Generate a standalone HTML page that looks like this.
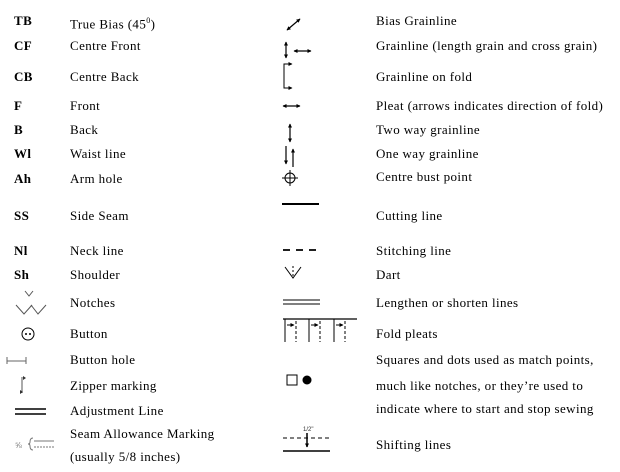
<!DOCTYPE html>
<html><head><meta charset="utf-8"><style>
body{margin:0;background:#fff;width:620px;height:472px;position:relative;overflow:hidden;font-family:"Liberation Serif",serif;font-size:13px;color:#000}
.t{position:absolute;white-space:nowrap;line-height:16px;letter-spacing:0.4px}
.b{font-weight:bold}
svg{position:absolute;left:0;top:0}
</style></head><body>
<div class="t b" style="left:14px;top:13px">TB</div><div class="t" style="left:70px;top:13px">True Bias (45<sup style="font-size:8px">0</sup>)</div>
<div class="t b" style="left:14px;top:38px">CF</div><div class="t" style="left:70px;top:38px">Centre Front</div>
<div class="t b" style="left:14px;top:69px">CB</div><div class="t" style="left:70px;top:69px">Centre Back</div>
<div class="t b" style="left:14px;top:98px">F</div><div class="t" style="left:70px;top:98px">Front</div>
<div class="t b" style="left:14px;top:122px">B</div><div class="t" style="left:70px;top:122px">Back</div>
<div class="t b" style="left:14px;top:146px">Wl</div><div class="t" style="left:70px;top:146px">Waist line</div>
<div class="t b" style="left:14px;top:171px">Ah</div><div class="t" style="left:70px;top:171px">Arm hole</div>
<div class="t b" style="left:14px;top:208px">SS</div><div class="t" style="left:70px;top:208px">Side Seam</div>
<div class="t b" style="left:14px;top:243px">Nl</div><div class="t" style="left:70px;top:243px">Neck line</div>
<div class="t b" style="left:14px;top:267px">Sh</div><div class="t" style="left:70px;top:267px">Shoulder</div>
<div class="t" style="left:70px;top:295px">Notches</div>
<div class="t" style="left:70px;top:326px">Button</div>
<div class="t" style="left:70px;top:352px">Button hole</div>
<div class="t" style="left:70px;top:378px">Zipper marking</div>
<div class="t" style="left:70px;top:403px">Adjustment Line</div>
<div class="t" style="left:70px;top:426px">Seam Allowance Marking</div>
<div class="t" style="left:70px;top:449px">(usually 5/8 inches)</div>

<div class="t" style="left:376px;top:13px">Bias Grainline</div>
<div class="t" style="left:376px;top:38px">Grainline (length grain and cross grain)</div>
<div class="t" style="left:376px;top:69px">Grainline on fold</div>
<div class="t" style="left:376px;top:98px">Pleat (arrows indicates direction of fold)</div>
<div class="t" style="left:376px;top:122px">Two way grainline</div>
<div class="t" style="left:376px;top:146px">One way grainline</div>
<div class="t" style="left:376px;top:169px">Centre bust point</div>
<div class="t" style="left:376px;top:208px">Cutting line</div>
<div class="t" style="left:376px;top:243px">Stitching line</div>
<div class="t" style="left:376px;top:267px">Dart</div>
<div class="t" style="left:376px;top:295px">Lengthen or shorten lines</div>
<div class="t" style="left:376px;top:326px">Fold pleats</div>
<div class="t" style="left:376px;top:352px">Squares and dots used as match points,</div>
<div class="t" style="left:376px;top:378px">much like notches, or they’re used to</div>
<div class="t" style="left:376px;top:401px">indicate where to start and stop sewing</div>
<div class="t" style="left:376px;top:437px">Shifting lines</div>

<svg width="620" height="472" viewBox="0 0 620 472">
<defs><marker id="a" markerUnits="userSpaceOnUse" markerWidth="4" markerHeight="4" refX="3.5" refY="2" orient="auto-start-reverse"><path d="M0,0L4,2L0,4z" fill="#000"/></marker></defs>
<g stroke="#000" stroke-width="1.2" fill="none">
<line x1="287" y1="30" x2="300" y2="19" marker-start="url(#a)" marker-end="url(#a)"/>
<line x1="286" y1="42" x2="286" y2="58" marker-start="url(#a)" marker-end="url(#a)"/>
<line x1="294" y1="51" x2="311" y2="51" marker-start="url(#a)" marker-end="url(#a)"/>
<path d="M292,64H284V88H292" stroke-width="1" marker-end="url(#a)"/>
<line x1="284" y1="64" x2="292" y2="64" marker-end="url(#a)" stroke-width="1"/>
<line x1="283" y1="106" x2="300" y2="106" marker-start="url(#a)" marker-end="url(#a)"/>
<line x1="290" y1="124" x2="290" y2="142" marker-start="url(#a)" marker-end="url(#a)"/>
<line x1="286" y1="146" x2="286" y2="164" marker-end="url(#a)"/>
<line x1="293" y1="167" x2="293" y2="149" marker-end="url(#a)"/>
<circle cx="290" cy="178" r="5" stroke-width="1"/>
<line x1="282" y1="178" x2="298" y2="178" stroke-width="1"/><line x1="290" y1="170" x2="290" y2="186" stroke-width="1"/>
<line x1="282" y1="204" x2="319" y2="204" stroke-width="2"/>
<line x1="283" y1="250" x2="320" y2="250" stroke-width="1.8" stroke-dasharray="7,6"/>
<path d="M285,267L293,278L301,267" stroke-width="1"/>
<line x1="293" y1="266" x2="293" y2="276" stroke-width="1" stroke-dasharray="2,2"/>
<line x1="283" y1="300" x2="320" y2="300" stroke-width="1"/><line x1="283" y1="304" x2="320" y2="304" stroke-width="1"/>
<line x1="283" y1="319" x2="357" y2="319" stroke-width="1.2"/>
<g stroke-width="1">
<line x1="285" y1="319" x2="285" y2="342"/><line x1="296" y1="321" x2="296" y2="342" stroke-dasharray="3,2"/>
<line x1="309" y1="319" x2="309" y2="342"/><line x1="320" y1="321" x2="320" y2="342" stroke-dasharray="3,2"/>
<line x1="334" y1="319" x2="334" y2="342"/><line x1="345" y1="321" x2="345" y2="342" stroke-dasharray="3,2"/>
<line x1="287" y1="325" x2="294" y2="325" marker-end="url(#a)"/>
<line x1="311" y1="325" x2="318" y2="325" marker-end="url(#a)"/>
<line x1="336" y1="325" x2="343" y2="325" marker-end="url(#a)"/>
</g>
<rect x="287" y="375" width="10" height="10" stroke-width="1"/>
<line x1="283" y1="438" x2="330" y2="438" stroke-width="1" stroke-dasharray="4,3"/>
<line x1="307" y1="433" x2="307" y2="447" stroke-width="1.5" marker-end="url(#a)"/>
<line x1="283" y1="451" x2="330" y2="451" stroke-width="1.5"/>
<path d="M25,291L29,296L33,291M16,305L24,314L32,305M31,305L38,314L46,305" stroke="#555" stroke-width="1"/>
<circle cx="28" cy="334" r="6" stroke-width="1"/>
<line x1="7" y1="361" x2="26" y2="361" stroke="#666" stroke-width="1"/>
<line x1="7" y1="357" x2="7" y2="364" stroke="#666" stroke-width="1"/><line x1="26" y1="357" x2="26" y2="364" stroke="#666" stroke-width="1"/>
<line x1="22" y1="377" x2="22" y2="393" stroke="#555" stroke-width="1"/>
<line x1="15" y1="409" x2="46" y2="409" stroke-width="1.6"/><line x1="15" y1="414" x2="46" y2="414" stroke-width="1.6"/>
<line x1="34" y1="441" x2="54" y2="441" stroke="#777" stroke-width="1"/>
<line x1="34" y1="447" x2="54" y2="447" stroke="#777" stroke-width="1" stroke-dasharray="2,1"/>
<path d="M33,438Q30,438 30,442Q30,444 28,444Q30,444 30,446Q30,450 33,450" stroke="#777" stroke-width="1"/>
</g>
<circle cx="307" cy="380" r="4.5" fill="#000"/>
<circle cx="26" cy="334" r="1" fill="#000"/><circle cx="30" cy="334" r="1" fill="#000"/>
<path d="M23,376l3,2l-3,2z M20,390l3,2l-3,2z" fill="#333"/>
<text x="303" y="431" font-family="Liberation Sans,sans-serif" font-size="6" fill="#333">1/2"</text>
<text x="15" y="448" font-family="Liberation Sans,sans-serif" font-size="8" fill="#777">⅝</text>
</svg>
</body></html>
